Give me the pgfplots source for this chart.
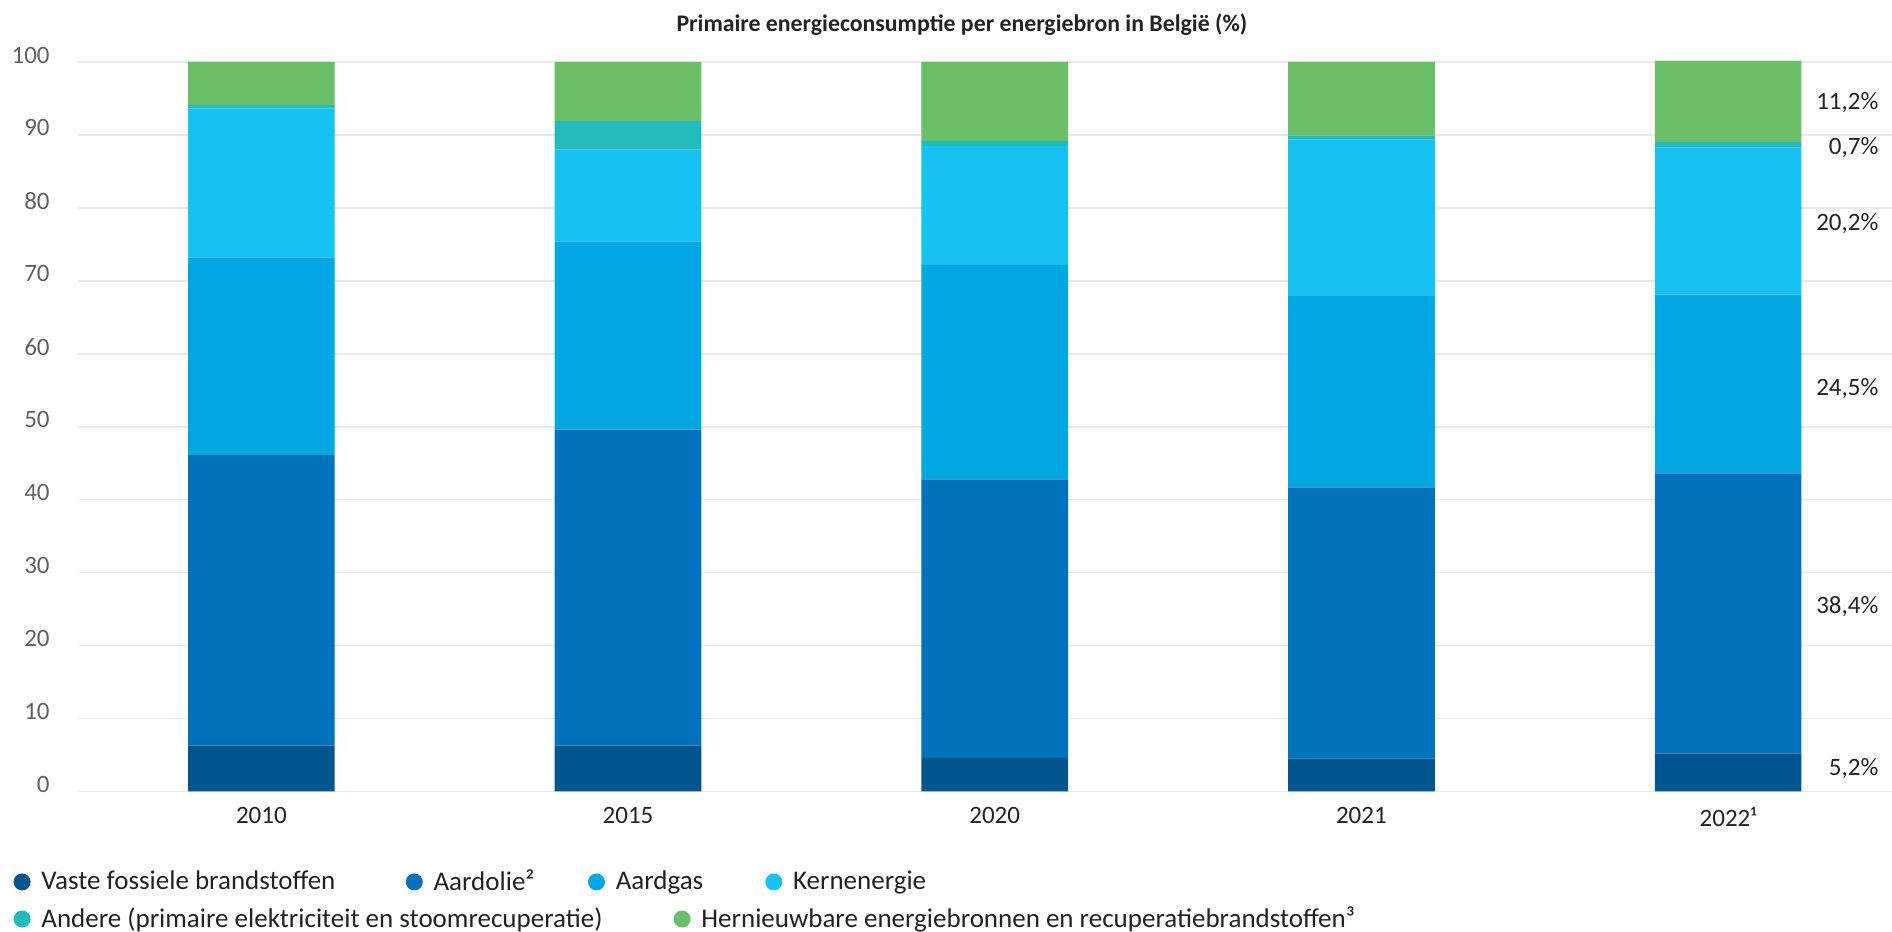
\documentclass[border=0pt]{standalone}
\usepackage{fontspec}
\setmainfont{Carlito}
\usepackage{pgfplots}
\pgfplotsset{compat=1.18}

\definecolor{cSolid}{HTML}{00558C}
\definecolor{cOil}{HTML}{0072BB}
\definecolor{cGas}{HTML}{00A7E1}
\definecolor{cNuc}{HTML}{17C1F1}
\definecolor{cOther}{HTML}{21BBBC}
\definecolor{cRen}{HTML}{6BBF68}
\definecolor{gridgray}{HTML}{E8E8E8}
\definecolor{tickgray}{HTML}{606060}
\definecolor{textdark}{HTML}{222222}

\newcommand{\lblfont}{\fontsize{12.5}{15}\selectfont}
\newcommand{\legfont}{\fontsize{13.5}{16}\selectfont}
\tikzset{pct/.style={anchor=east, inner sep=0pt, font=\lblfont, text=textdark}}

% one legend entry = one hidden axis of the same size as the chart
\pgfplotsset{legitem/.style={
    at={(0,0)}, anchor=south west,
    scale only axis,
    width=907pt, height=364.75pt,
    hide axis,
    xmin=0, xmax=1, ymin=0, ymax=1,
    legend image code/.code={\fill[##1] (0pt,0pt) circle (4.25pt);},
    legend style={anchor=west, draw=none, fill=none,
        inner sep=0pt, font=\legfont, text=textdark,
        /tikz/every odd column/.style={column sep=3.4pt}},
}}
\newcommand{\legitem}[4]{%
\begin{axis}[legitem, legend style={at={(#1,#2)}}]
\addlegendimage{fill=#3, draw=none}
\addlegendentry{#4}
\end{axis}}

\begin{document}
\begin{tikzpicture}
\begin{axis}[
    at={(0,0)}, anchor=south west,
    scale only axis,
    width=907pt, height=364.75pt,
    xmin=-0.5, xmax=4.447,
    ymin=0, ymax=100,
    ybar stacked,
    bar width=0.4,
    clip=false,
    axis line style={draw=none},
    major tick length=0pt,
    ymajorgrids,
    grid style={draw=gridgray, line width=0.8pt},
    ytick={0,10,...,100},
    xtick={0,1,2,3,4},
    xticklabels={2010,2015,2020,2021,2022¹},
    /pgf/number format/assume math mode=true,
    yticklabel style={font=\lblfont, text=tickgray, anchor=east, inner sep=0pt, xshift=-14pt, yshift=3.5pt},
    xticklabel style={font=\lblfont, text=textdark, anchor=north, inner sep=0pt, yshift=-7.5pt},
    title={Primaire energieconsumptie per energiebron in België (\%)},
    title style={at={(0.4873,1)}, anchor=center, yshift=12.6pt, font=\fontsize{11.9}{14}\selectfont\bfseries, text=textdark},
]
% Vaste fossiele brandstoffen
\addplot[fill=cSolid, draw=none] coordinates {(0,6.3) (1,6.3) (2,4.6) (3,4.5) (4,5.2)};
% Aardolie
\addplot[fill=cOil, draw=none] coordinates {(0,39.8) (1,43.3) (2,38.2) (3,37.2) (4,38.4)};
% Aardgas
\addplot[fill=cGas, draw=none] coordinates {(0,27.1) (1,25.8) (2,29.4) (3,26.2) (4,24.5)};
% Kernenergie
\addplot[fill=cNuc, draw=none] coordinates {(0,20.4) (1,12.6) (2,16.3) (3,21.45) (4,20.2)};
% Andere
\addplot[fill=cOther, draw=none] coordinates {(0,0.5) (1,3.9) (2,0.7) (3,0.55) (4,0.7)};
% Hernieuwbaar
\addplot[fill=cRen, draw=none] coordinates {(0,5.9) (1,8.1) (2,10.8) (3,10.1) (4,11.2)};

\node[pct] at (axis cs:4.411,94.5) {11,2\%};
\node[pct] at (axis cs:4.411,88.3) {0,7\%};
\node[pct] at (axis cs:4.411,77.9) {20,2\%};
\node[pct] at (axis cs:4.411,55.3) {24,5\%};
\node[pct] at (axis cs:4.411,25.3) {38,4\%};
\node[pct] at (axis cs:4.411,3.1) {5,2\%};
\end{axis}

% legend
\legitem{-0.03572}{-0.124}{cSolid}{Vaste fossiele brandstoffen}
\legitem{0.18048}{-0.124}{cOil}{Aardolie²}
\legitem{0.28092}{-0.124}{cGas}{Aardgas}
\legitem{0.37866}{-0.124}{cNuc}{Kernenergie}
\legitem{-0.03572}{-0.1748}{cOther}{Andere (primaire elektriciteit en stoomrecuperatie)}
\legitem{0.32811}{-0.1748}{cRen}{Hernieuwbare energiebronnen en recuperatiebrandstoffen³}

\pgfresetboundingbox
\useasboundingbox (-39pt,-70.25pt) rectangle (907pt,395.75pt);
\end{tikzpicture}
\end{document}
